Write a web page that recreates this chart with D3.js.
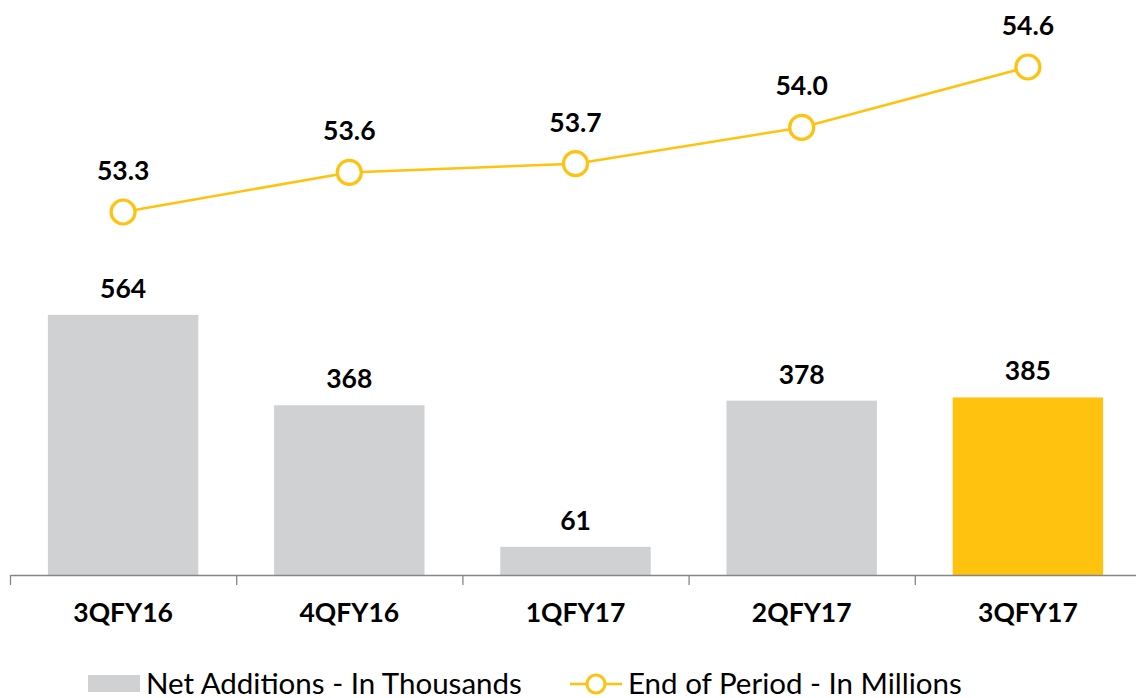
<!DOCTYPE html>
<html>
<head>
<meta charset="utf-8">
<script src="https://cdnjs.cloudflare.com/ajax/libs/d3/7.8.5/d3.min.js"></script>
<style>
  body { margin: 0; background: #fff; }
  svg text { font-family: Lato, "Open Sans", sans-serif; }
</style>
</head>
<body>
<svg id="chart" width="1136" height="698"></svg>
<script>
// data
var quarters = ['3QFY16', '4QFY16', '1QFY17', '2QFY17', '3QFY17'];
var netAdditions = [564, 368, 61, 378, 385];        // thousands
var endOfPeriod = [53.27, 53.63, 53.71, 54.04, 54.59]; // millions
var endLabels = ['53.3', '53.6', '53.7', '54.0', '54.6'];

var grey = '#D0D1D2';
var gold = '#FFC20E';

var svg = d3.select('#chart');

// x band covers the axis, which runs a bit past the right edge
var x = d3.scaleBand()
    .domain(quarters)
    .range([10, 1141])
    .paddingInner(0.335)
    .paddingOuter(0.1675);

var xTicks = d3.scaleBand().domain(quarters).range([10, 1141]);

var yBar = d3.scaleLinear().domain([0, 1225]).range([575, 10]);
var yLine = d3.scaleLinear().domain([53.27, 54.59]).range([212, 67]);

// bars
svg.selectAll('rect.bar')
    .data(quarters)
    .enter()
    .append('rect')
    .attr('class', 'bar')
    .attr('x', function (d) { return x(d); })
    .attr('width', x.bandwidth())
    .attr('y', function (d, i) { return yBar(netAdditions[i]); })
    .attr('height', function (d, i) { return yBar(0) - yBar(netAdditions[i]); })
    .attr('fill', function (d, i) { return i == quarters.length - 1 ? gold : grey; });

svg.selectAll('text.barlabel')
    .data(quarters)
    .enter()
    .append('text')
    .attr('class', 'barlabel')
    .attr('x', function (d) { return x(d) + x.bandwidth() / 2; })
    .attr('y', function (d, i) { return yBar(netAdditions[i]) - 17; })
    .attr('text-anchor', 'middle')
    .attr('font-size', 26.5)
    .attr('font-weight', 'bold')
    .attr('fill', '#000')
    .text(function (d, i) { return netAdditions[i]; });

// axis
var axis = svg.append('g')
    .attr('transform', 'translate(0,575)')
    .call(d3.axisBottom(xTicks).tickSize(0).tickPadding(28));
axis.select('.domain').attr('stroke', '#868686').attr('stroke-width', 1.3);
axis.selectAll('.tick text')
    .attr('font-size', 26.5)
    .attr('font-weight', 'bold')
    .attr('fill', '#000')
    .attr('font-family', 'Lato, sans-serif');

// category boundary ticks
var bounds = quarters.map(function (d) { return xTicks(d); }).concat([xTicks.range()[1]]);
svg.selectAll('line.sep')
    .data(bounds)
    .enter()
    .append('line')
    .attr('class', 'sep')
    .attr('x1', function (d) { return d + 0.5; })
    .attr('x2', function (d) { return d + 0.5; })
    .attr('y1', 575)
    .attr('y2', 585)
    .attr('stroke', '#868686')
    .attr('stroke-width', 1.3);

// line series
var cx = function (d, i) { return x(quarters[i]) + x.bandwidth() / 2; };
var line = d3.line()
    .x(function (d, i) { return cx(d, i); })
    .y(function (d) { return yLine(d); });

svg.append('path')
    .datum(endOfPeriod)
    .attr('d', line)
    .attr('fill', 'none')
    .attr('stroke', gold)
    .attr('stroke-width', 2.5);

svg.selectAll('circle.pt')
    .data(endOfPeriod)
    .enter()
    .append('circle')
    .attr('class', 'pt')
    .attr('cx', cx)
    .attr('cy', function (d) { return yLine(d); })
    .attr('r', 12)
    .attr('fill', '#fff')
    .attr('stroke', gold)
    .attr('stroke-width', 3.2);

svg.selectAll('text.ptlabel')
    .data(endOfPeriod)
    .enter()
    .append('text')
    .attr('class', 'ptlabel')
    .attr('x', cx)
    .attr('y', function (d) { return yLine(d) - 32; })
    .attr('text-anchor', 'middle')
    .attr('font-size', 26.5)
    .attr('font-weight', 'bold')
    .attr('fill', '#000')
    .text(function (d, i) { return endLabels[i]; });

// legend
var legend = svg.append('g');
legend.append('rect')
    .attr('x', 88).attr('y', 675)
    .attr('width', 52).attr('height', 17)
    .attr('fill', grey);
legend.append('text')
    .attr('x', 146).attr('y', 694)
    .attr('font-size', 29.5)
    .attr('fill', '#000')
    .text('Net Additions - In Thousands');

legend.append('line')
    .attr('x1', 570).attr('x2', 622)
    .attr('y1', 684).attr('y2', 684)
    .attr('stroke', gold).attr('stroke-width', 2.5);
legend.append('circle')
    .attr('cx', 596).attr('cy', 684).attr('r', 9)
    .attr('fill', '#fff')
    .attr('stroke', gold).attr('stroke-width', 3);
legend.append('text')
    .attr('x', 628).attr('y', 694)
    .attr('font-size', 29.5)
    .attr('fill', '#000')
    .text('End of Period - In Millions');
</script>
</body>
</html>
